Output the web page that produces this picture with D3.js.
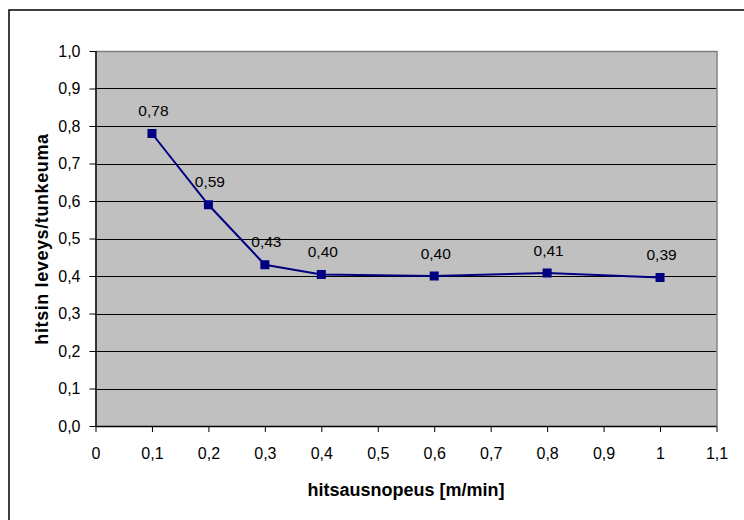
<!DOCTYPE html>
<html><head><meta charset="utf-8">
<script src="https://cdn.jsdelivr.net/npm/d3@7"></script>
<style>body{margin:0;background:#fff}svg{display:block}text{font-family:"Liberation Sans",Arial,sans-serif}</style>
</head><body><svg id="c" width="744" height="520"></svg>
<script>
const speeds = [0.1, 0.2, 0.3, 0.4, 0.6, 0.8, 1.0];
const ratios = [0.78, 0.59, 0.43, 0.404, 0.400, 0.408, 0.396];
const labels = ["0,78", "0,59", "0,43", "0,40", "0,40", "0,41", "0,39"];
const xTicks = [0, 0.1, 0.2, 0.3, 0.4, 0.5, 0.6, 0.7, 0.8, 0.9, 1, 1.1];
const yTicks = [0, 0.1, 0.2, 0.3, 0.4, 0.5, 0.6, 0.7, 0.8, 0.9, 1.0];
const xTitle = "hitsausnopeus [m/min]";
const yTitle = "hitsin leveys/tunkeuma";

const svg = d3.select("#c");
const L = 95.5, R = 716.5, T = 51, B = 426;
const x = d3.scaleLinear().domain([0, 1.1]).range([L, R]);
const y = d3.scaleLinear().domain([0, 1.0]).range([B, T]);
const fmt = d => d === 0 ? "0" : (d === 1 ? "1" : String(d).replace(".", ","));

// outer border
svg.append("path").attr("d", "M9,520 V10 H744").attr("fill", "none").attr("stroke", "#000").attr("stroke-width", 1.5);

// plot area
svg.append("rect").attr("x", L).attr("y", T).attr("width", R - L).attr("height", B - T).attr("fill", "#c0c0c0");
// gridlines
svg.append("g").selectAll("line").data(yTicks.filter(d => d > 0 && d < 1)).join("line")
  .attr("x1", L).attr("x2", R).attr("y1", d => Math.round(y(d)) + 0.5).attr("y2", d => Math.round(y(d)) + 0.5)
  .attr("stroke", "#000").attr("stroke-width", 1);
// top/right border of plot area
svg.append("path").attr("d", `M${L},${T + 0.5} H${R + 0.5} V${B}`).attr("fill", "none").attr("stroke", "#808080").attr("stroke-width", 1.5);

// axes
const yAxis = d3.axisLeft(y).tickValues(yTicks).tickSize(6).tickPadding(9).tickFormat(d => d3.format(".1f")(d).replace(".", ","));
const gy = svg.append("g").attr("transform", `translate(${L},0)`).call(yAxis);
const xAxis = d3.axisBottom(x).tickValues(xTicks).tickSize(6).tickPadding(16).tickFormat(fmt);
const gx = svg.append("g").attr("transform", `translate(0,${B})`).call(xAxis);
[gx, gy].forEach(g => {
  g.attr("font-size", null).attr("font-family", null);
  g.select(".domain").attr("stroke", "#000").attr("stroke-width", 1.5);
  g.selectAll(".tick line").attr("stroke", "#000");
  g.selectAll("text").attr("font-size", 16).attr("fill", "#000");
});
gx.select(".domain").attr("d", `M${L},0.5H${R}`);
gy.select(".domain").attr("d", `M0.5,${B}V${T}`);

// line
const pts = speeds.map((s, i) => [s, ratios[i]]);
svg.append("path").datum(pts).attr("fill", "none").attr("stroke", "#000080").attr("stroke-width", 2)
  .attr("d", d3.line().x(d => x(d[0])).y(d => y(d[1])));
svg.append("g").selectAll("rect").data(pts).join("rect")
  .attr("x", d => x(d[0]) - 4.5).attr("y", d => y(d[1]) - 4.5).attr("width", 9).attr("height", 9).attr("fill", "#000080");
svg.append("g").selectAll("text").data(pts).join("text")
  .attr("x", d => x(d[0]) + 1.5).attr("y", d => y(d[1]) - 17.5).attr("text-anchor", "middle")
  .attr("font-size", 15.5).attr("fill", "#000").text((d, i) => labels[i]);

// titles
svg.append("text").attr("x", 406).attr("y", 496).attr("text-anchor", "middle")
  .attr("font-size", 18).attr("font-weight", "bold").text(xTitle);
svg.append("text").attr("transform", `translate(48,239) rotate(-90)`).attr("text-anchor", "middle")
  .attr("font-size", 18).attr("font-weight", "bold").attr("letter-spacing", 0.6).text(yTitle);
</script></body></html>
